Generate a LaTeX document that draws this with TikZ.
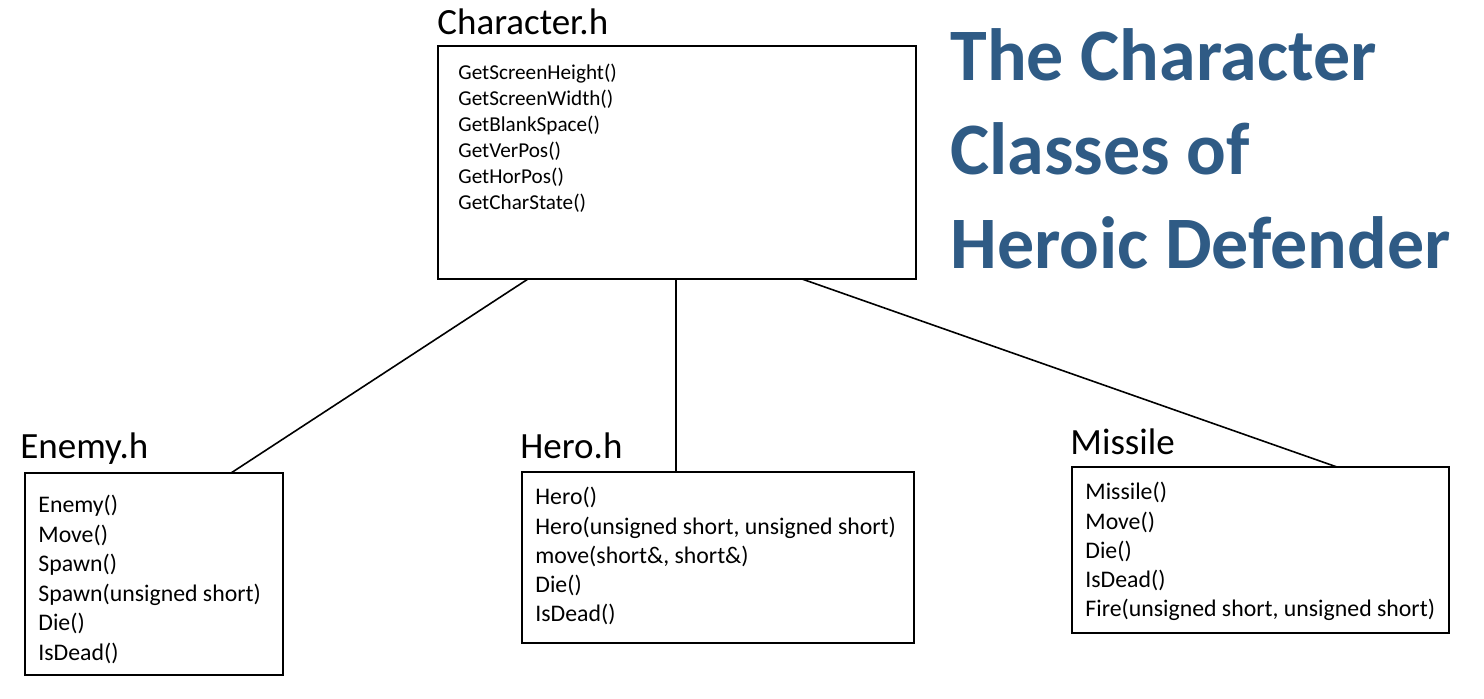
\documentclass[tikz,border=0pt]{standalone}
\usepackage{fontspec}
\setmainfont{Carlito}
\usetikzlibrary{calc}
\definecolor{titleblue}{HTML}{2F5B85}
\tikzset{
  classbox/.style={draw, thick, minimum width=#1, anchor=north west, inner sep=0},
  methods/.style={anchor=north west, align=left, inner sep=0, font=\fontsize{11.9}{14.6}\selectfont},
  classname/.style={anchor=west, inner sep=0, font=\fontsize{18.5}{20}\selectfont},
}
\begin{document}
\begin{tikzpicture}[x=0.5pt,y=-0.5pt]
\useasboundingbox (0,0) rectangle (1484,698);

% boxes
\draw[thick] (438,46) rectangle (916,279);
\coordinate (charNW) at (438,46);
\coordinate (charSW) at (438,279);
\draw[thick] (25,473) rectangle (283,675);
\coordinate (enemyNW) at (25,473);
\draw[thick] (522,472) rectangle (914,643);
\coordinate (heroNW) at (522,472);
\draw[thick] (1072,467) rectangle (1449,633);
\coordinate (missileNW) at (1072,467);

% class names
\node[classname] (charname) at (437,22) {Character.h};
\node[classname] (enemyname) at (20,449) {Enemy.h};
\node[classname] (heroname) at (520,446) {Hero.h};
\node[classname] (missilename) at (1070,442) {Missile};

% methods
\node[methods, font=\fontsize{10.6}{13}\selectfont] (charmeth) at ($(charNW)+(20,18)$) {GetScreenHeight()\\GetScreenWidth()\\GetBlankSpace()\\GetVerPos()\\GetHorPos()\\GetCharState()};
\node[methods, font=\fontsize{11.9}{14.75}\selectfont] (enemymeth) at ($(enemyNW)+(13,22)$) {Enemy()\\Move()\\Spawn()\\Spawn(unsigned short)\\Die()\\IsDead()};
\node[methods] (herometh) at ($(heroNW)+(13,15)$) {Hero()\\Hero(unsigned short, unsigned short)\\move(short\&, short\&)\\Die()\\IsDead()};
\node[methods] (missilemeth) at ($(missileNW)+(13,15)$) {Missile()\\Move()\\Die()\\IsDead()\\Fire(unsigned short, unsigned short)};

% title
\node[anchor=north west, align=left, inner sep=0, text=titleblue,
  font=\bfseries\fontsize{37}{47}\selectfont] (title) at (950,28)
  {The Character\\Classes of\\Heroic Defender};

% connectors
\draw[thick] ($(charSW)+(90,0)$) -- ($(enemyNW)+(206,0)$);
\draw[thick] ($(charSW)+(238,0)$) -- ($(heroNW)+(154,1)$);
\draw[thick] ($(charSW)+(364,0)$) -- ($(missileNW)+(265,0)$);
\end{tikzpicture}
\end{document}
